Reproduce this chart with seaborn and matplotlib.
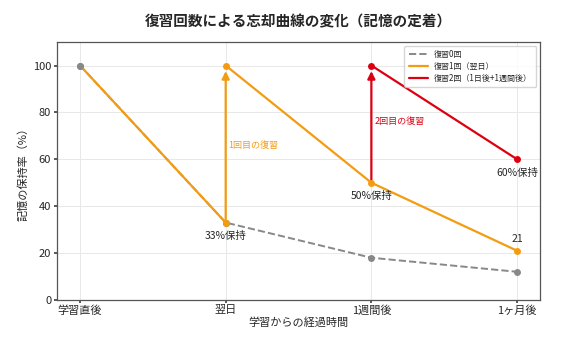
import matplotlib
matplotlib.use("Agg")
import matplotlib.pyplot as plt
from matplotlib.lines import Line2D
import seaborn as sns
import pandas as pd

sns.set_theme(style="whitegrid")
plt.rcParams['font.family'] = ['Noto Sans CJK JP', 'DejaVu Sans']

categories = ["学習直後", "翌日", "1週間後", "1ヶ月後"]
review0 = [100, 33, 18, 12]
review1_a = [100, 33]
review1_b = [100, 50, 21]
review2 = [100, 60]

fig, ax = plt.subplots(figsize=(5.67, 3.42), dpi=100)

d0 = pd.DataFrame({"x": [0, 1, 2, 3], "y": review0})
d1a = pd.DataFrame({"x": [0, 1], "y": review1_a})
d1b = pd.DataFrame({"x": [1, 2, 3], "y": review1_b})
d2 = pd.DataFrame({"x": [2, 3], "y": review2})

gray = "#888888"
orange = "#F39C12"
red = "#DD0011"

sns.lineplot(data=d0, x="x", y="y", ax=ax, color=gray, linestyle="--", marker="o",
             markersize=5, markeredgewidth=0, linewidth=1.4, zorder=2, legend=False)
sns.lineplot(data=d1a, x="x", y="y", ax=ax, color=orange, marker="o", markevery=[1],
             markersize=5, markeredgewidth=0, linewidth=1.6, zorder=3, legend=False)
sns.lineplot(data=d1b, x="x", y="y", ax=ax, color=orange, marker="o",
             markersize=5, markeredgewidth=0, linewidth=1.6, zorder=3, legend=False)
sns.lineplot(data=d2, x="x", y="y", ax=ax, color=red, marker="o",
             markersize=5, markeredgewidth=0, linewidth=1.6, zorder=3, legend=False)
sns.scatterplot(data=d0.iloc[:1], x="x", y="y", ax=ax, color=gray, s=25, linewidth=0,
                zorder=5, legend=False)

ax.annotate("", xy=(1, review1_b[0]), xytext=(1, review1_a[1]),
            arrowprops=dict(arrowstyle="-|>", color=orange, lw=1.6, mutation_scale=11,
                            shrinkA=0, shrinkB=4), zorder=2.5)
ax.annotate("", xy=(2, review2[0]), xytext=(2, review1_b[1]),
            arrowprops=dict(arrowstyle="-|>", color=red, lw=1.6, mutation_scale=11,
                            shrinkA=0, shrinkB=4), zorder=2.5)
ax.text(1.02, 66, "1回目の復習", color=orange, fontsize=6.5, va="center")
ax.text(2.02, 76, "2回目の復習", color=red, fontsize=6.5, va="center")

ax.text(1, 29.5, "33%保持", ha="center", va="top", fontsize=7.5)
ax.text(2, 46.5, "50%保持", ha="center", va="top", fontsize=7.5)
ax.text(3, 56.5, "60%保持", ha="center", va="top", fontsize=7.5)
ax.text(3, 24, "21", ha="center", va="bottom", fontsize=7.5)

ax.set_xlim(-0.16, 3.16)
ax.set_ylim(0, 110)
ax.set_xticks([0, 1, 2, 3])
ax.set_xticklabels(categories, fontsize=8)
ax.set_yticks([0, 20, 40, 60, 80, 100])
ax.tick_params(axis="y", labelsize=8)
ax.tick_params(axis="both", length=2, pad=2, color="#444444")
ax.tick_params(axis="both", which="both", bottom=True, left=True)
ax.set_xlabel("学習からの経過時間", fontsize=8, labelpad=1)
ax.set_ylabel("記憶の保持率（%）", fontsize=8, labelpad=3)
ax.set_title("復習回数による忘却曲線の変化（記憶の定着）", fontsize=10.5,
             fontweight="bold", pad=11)

ax.grid(True, color="#e8e8e8", linewidth=0.7)
for s in ax.spines.values():
    s.set_color("#555555")
    s.set_linewidth(0.9)

handles = [Line2D([0], [0], color=gray, linestyle="--", linewidth=1.4),
           Line2D([0], [0], color=orange, linewidth=1.6),
           Line2D([0], [0], color=red, linewidth=1.6)]
labels = ["復習0回", "復習1回（翌日）", "復習2回（1日後+1週間後）"]
leg = ax.legend(handles, labels, loc="upper right", fontsize=5.8, frameon=True,
                handlelength=2.4, borderpad=0.5, labelspacing=0.35)
leg.get_frame().set_edgecolor("#cccccc")

fig.subplots_adjust(left=0.1, right=0.953, top=0.877, bottom=0.123)
fig.savefig("out.png", dpi=100)
